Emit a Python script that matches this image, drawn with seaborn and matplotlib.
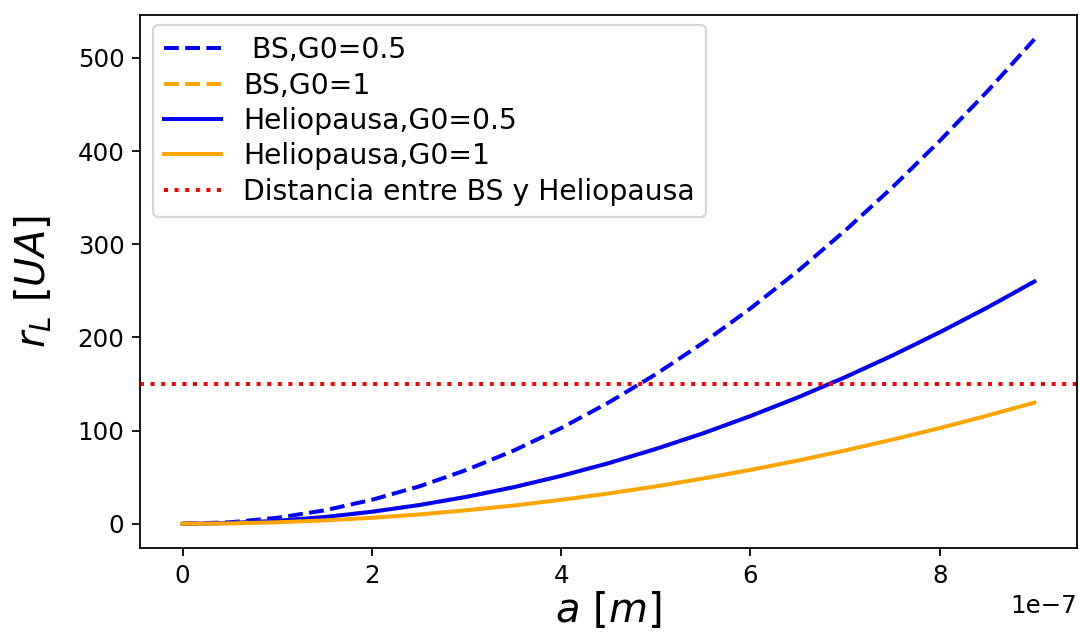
import matplotlib
matplotlib.use("Agg")
import matplotlib.pyplot as plt
import seaborn as sns
import pandas as pd
import numpy as np

# a values (units of 1e-7 m)
a_vals = [0.0, 0.5, 1.0, 1.5, 2.0, 2.5, 3.0, 3.5, 4.0, 4.5, 5.0, 5.5, 6.0, 6.5, 7.0, 7.5, 8.0, 8.5, 9.0]
bs_g05 = [0, 1.6, 6.4, 14.4, 25.7, 40.1, 57.8, 78.6, 102.7, 130, 160.5, 194.2, 231.1, 271.2, 314.6, 361.1, 410.9, 463.8, 520]
bs_g1 = [0, 0.8, 3.2, 7.2, 12.9, 20.1, 28.9, 39.3, 51.4, 65, 80.3, 97.1, 115.6, 135.6, 157.3, 180.6, 205.5, 231.9, 260]
hp_g05 = [0, 0.8, 3.2, 7.2, 12.9, 20.1, 28.9, 39.3, 51.4, 65, 80.3, 97.1, 115.6, 135.6, 157.3, 180.6, 205.5, 231.9, 260]
hp_g1 = [0, 0.4, 1.6, 3.6, 6.4, 10.0, 14.5, 19.6, 25.7, 32.5, 40.1, 48.6, 57.8, 67.8, 78.7, 90.3, 102.7, 116.0, 130]
distancia = 150

labels = [" BS,G0=0.5", "BS,G0=1", "Heliopausa,G0=0.5", "Heliopausa,G0=1", "Distancia entre BS y Heliopausa"]

W, H, DPI = 1079, 633, 160
fig, ax = plt.subplots(figsize=(W / DPI, H / DPI), dpi=DPI)
L, R, B, T = 140, 1077, 548, 15
fig.subplots_adjust(left=L / W, right=R / W, bottom=1 - B / H, top=1 - T / H)

x = np.array(a_vals) * 1e-7
lw = 1.8
sns.lineplot(x=x, y=bs_g05, ax=ax, color="blue", linestyle="--", lw=lw, label=labels[0])
sns.lineplot(x=x, y=bs_g1, ax=ax, color="orange", linestyle="--", lw=lw, label=labels[1])
sns.lineplot(x=x, y=hp_g05, ax=ax, color="blue", linestyle="-", lw=lw, label=labels[2])
sns.lineplot(x=x, y=hp_g1, ax=ax, color="orange", linestyle="-", lw=lw, label=labels[3])
ax.axhline(distancia, color="red", linestyle=":", lw=lw, label=labels[4])

ax.set_xlabel(r"$a\ [m]$", fontsize=18, labelpad=1)
ax.set_ylabel(r"$r_L\ [UA]$", fontsize=18, labelpad=10.5)
ax.tick_params(labelsize=11)
ax.xaxis.get_offset_text().set_fontsize(11)
ax.legend(loc="upper left", fontsize=12.7, labelspacing=0.26, borderaxespad=0,
          bbox_to_anchor=((153 - L) / (R - L), (B - 25) / (B - T)))

fig.savefig("out.png", dpi=DPI)
